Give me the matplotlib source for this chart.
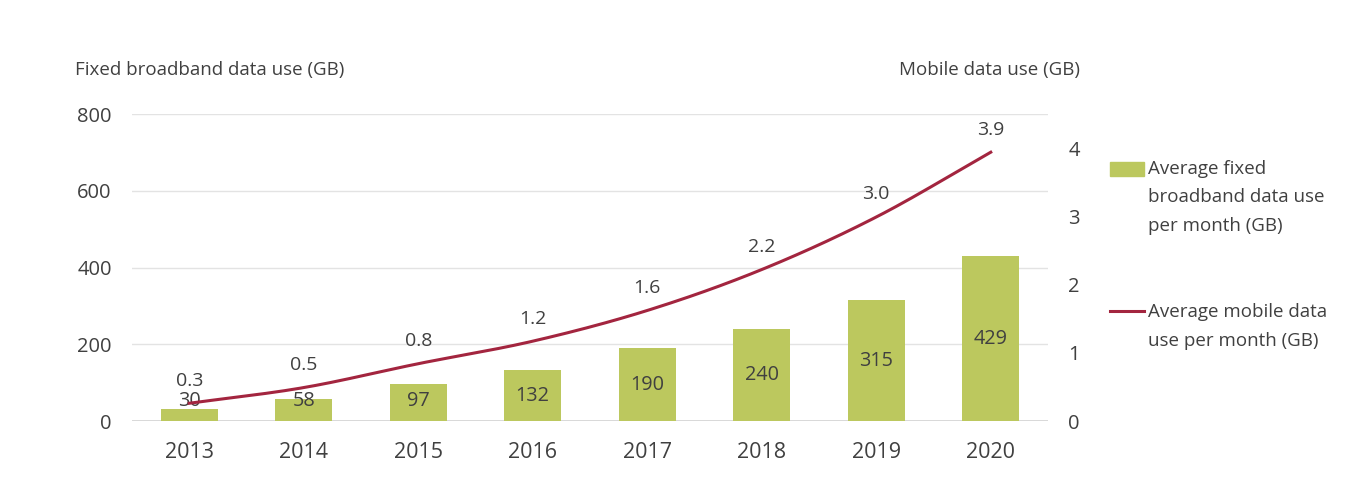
import numpy as np
import matplotlib
matplotlib.use("Agg")
import matplotlib.pyplot as plt
from matplotlib.patches import Rectangle
from matplotlib.lines import Line2D

plt.rcParams['font.family'] = ['Open Sans', 'DejaVu Sans']

years = ['2013', '2014', '2015', '2016', '2017', '2018', '2019', '2020']
fixed_gb = [30, 58, 97, 132, 190, 240, 315, 429]
mobile_gb = [0.26, 0.49, 0.84, 1.17, 1.62, 2.22, 2.99, 3.94]
left_ticks = [0, 200, 400, 600, 800]
right_ticks = [0, 1, 2, 3, 4]

TXT = '#404040'
BAR = '#BCC85E'
LINE = '#A3253F'
GRID = '#E3E3E3'

fig = plt.figure(figsize=(13.66, 4.9), dpi=100)
ax = fig.add_axes([132/1366, 69/490, 916/1366, 307/490])
ax2 = ax.twinx()

x = np.arange(len(years))
ax.bar(x, fixed_gb, width=0.5, color=BAR, zorder=2)
ax.set_xlim(-0.5, len(years) - 0.5)
ax.set_ylim(0, 800)
ax.set_yticks(left_ticks)
ax.set_xticks(x)
ax.set_xticklabels(years)
for s in ax.spines.values():
    s.set_visible(False)
for s in ax2.spines.values():
    s.set_visible(False)
ax.grid(axis='y', color=GRID, linewidth=1, zorder=0)
ax.axhline(0, color='#D0D0D0', linewidth=1.2, zorder=1)
ax.tick_params(axis='y', length=0, pad=14.5, labelsize=14.5, labelcolor=TXT)
ax.tick_params(axis='x', length=0, pad=15, labelsize=15.5, labelcolor=TXT)

for xi, v in zip(x, fixed_gb):
    ax.text(xi, max(v / 2, 52), f'{v}', ha='center', va='center',
            fontsize=14.3, color=TXT, zorder=4)

# smoothed line (Catmull-Rom like Excel's smoothing)
def catmull(xs, ys, n=30):
    xs = np.asarray(xs, float); ys = np.asarray(ys, float)
    px = np.concatenate([[2*xs[0]-xs[1]], xs, [2*xs[-1]-xs[-2]]])
    py = np.concatenate([[2*ys[0]-ys[1]], ys, [2*ys[-1]-ys[-2]]])
    ox, oy = [], []
    for i in range(1, len(px) - 2):
        t = np.linspace(0, 1, n, endpoint=(i == len(px) - 3))
        for arr, out in ((px, ox), (py, oy)):
            p0, p1, p2, p3 = arr[i-1], arr[i], arr[i+1], arr[i+2]
            out.extend(0.5 * ((2*p1) + (-p0 + p2)*t + (2*p0 - 5*p1 + 4*p2 - p3)*t**2
                              + (-p0 + 3*p1 - 3*p2 + p3)*t**3))
    return np.array(ox), np.array(oy)

sx, sy = catmull(x, mobile_gb)
ax2.plot(sx, sy, color=LINE, linewidth=2.2, zorder=3)
ax2.set_ylim(0, 4.5)
ax2.set_yticks(right_ticks)
ax2.tick_params(axis='y', length=0, pad=14.5, labelsize=14.5, labelcolor=TXT)
for xi, v in zip(x, mobile_gb):
    ax2.text(xi, v + 0.2, f'{v:.1f}', ha='center', va='bottom',
             fontsize=14, color=TXT, zorder=4)

fig.text(75/1366, 1 - 70/490, 'Fixed broadband data use (GB)', ha='left', va='center',
         fontsize=13.5, color=TXT)
fig.text(1080/1366, 1 - 70/490, 'Mobile data use (GB)', ha='right', va='center',
         fontsize=13.5, color=TXT)

# legend
fig.add_artist(Rectangle((1110/1366, 1 - 176/490), 34/1366, 14/490,
                         transform=fig.transFigure, color=BAR))
fig.text(1148/1366, 1 - 160/490, 'Average fixed\nbroadband data use\nper month (GB)',
         ha='left', va='top', fontsize=13.5, color=TXT, linespacing=1.75)
fig.add_artist(Line2D([1110/1366, 1144/1366], [1 - 311/490, 1 - 311/490],
                      transform=fig.transFigure, color=LINE, linewidth=2.2))
fig.text(1148/1366, 1 - 303/490, 'Average mobile data\nuse per month (GB)',
         ha='left', va='top', fontsize=13.5, color=TXT, linespacing=1.75)

fig.savefig('out.png', dpi=100, facecolor='white')
